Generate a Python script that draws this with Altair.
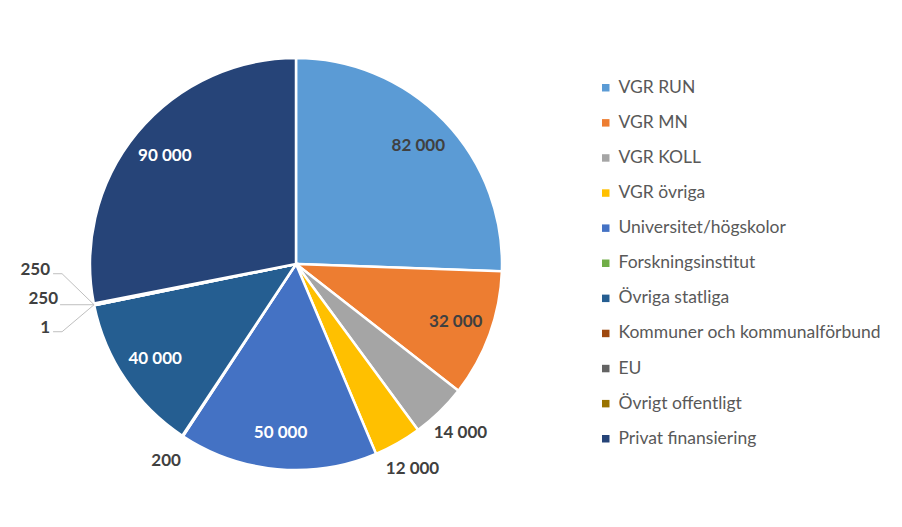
import math
import altair as alt
import pandas as pd

categories = ["VGR RUN", "VGR MN", "VGR KOLL", "VGR övriga", "Universitet/högskolor",
              "Forskningsinstitut", "Övriga statliga", "Kommuner och kommunalförbund",
              "EU", "Övrigt offentligt", "Privat finansiering"]
values = [82000, 32000, 14000, 12000, 50000, 200, 40000, 1, 250, 250, 90000]
colors = ["#5B9BD5", "#ED7D31", "#A5A5A5", "#FFC000", "#4472C4", "#70AD47",
          "#255E91", "#9E480E", "#636363", "#997300", "#264478"]

FONT = "Lato"
W, H = 576, 512
CX, CY = W / 2, H / 2
R = 206
R_IN = 170
R_OUT = 236
DARK_TXT = "#404040"

total = sum(values)
shares = [v / total for v in values]
n_all = len(values)


def fmt(v):
    return f"{v:,}".replace(",", " ")


def is_dark(hexcol):
    r, g, b = (int(hexcol[i:i + 2], 16) for i in (1, 3, 5))
    return 0.299 * r + 0.587 * g + 0.114 * b < 110


def is_tiny(i):
    return shares[i] < 0.01


def clustered(i):
    # a tiny slice next to another tiny slice gets a leader-line label
    return is_tiny(i) and (is_tiny((i - 1) % n_all) or is_tiny((i + 1) % n_all))


rows = []
cum = 0
for i, (c, v, col) in enumerate(zip(categories, values, colors)):
    share = shares[i]
    rows.append({
        "idx": i, "category": c, "value": v,
        "inside": fmt(v) if share >= 0.05 else "",
        "outside": fmt(v) if share < 0.05 and not clustered(i) else "",
        "txtcolor": "white" if is_dark(col) else DARK_TXT,
        "mid": (cum + v / 2) / total * 2 * math.pi,
        "leader": clustered(i),
    })
    cum += v
df = pd.DataFrame(rows)

# clustered tiny slices: labels with leader lines, stacked vertically left of the pie
tiny = [r for r in rows if r["leader"]]
mid_angle = sum(r["mid"] for r in tiny) / len(tiny)
ex = CX + R * math.sin(mid_angle)
ey = CY - R * math.cos(mid_angle)
lab_rows, line_rows = [], []
n = len(tiny)
for k, r in enumerate(tiny):
    pos = (n - 1) / 2 - k  # first (Kommuner) at bottom
    ty = ey - 6 + pos * 29
    if pos == 0:
        tx = ex - 36
        pts = [(tx + 2, ey), (ex, ey)]
    else:
        tx = ex - 44
        pts = [(tx + 3, ty + 4), (tx + 12, ty + 4), (ex, ey)]
    lab_rows.append({"x": tx, "y": ty, "label": fmt(r["value"])})
    for j, (px, py) in enumerate(pts):
        line_rows.append({"x": px, "y": py, "grp": k, "o": j})
lab_df = pd.DataFrame(lab_rows)
line_df = pd.DataFrame(line_rows)

base = alt.Chart(df).encode(
    theta=alt.Theta("value:Q", stack=True),
    order=alt.Order("idx:Q"),
)

arcs = base.mark_arc(outerRadius=R, stroke="white", strokeWidth=2.5).encode(
    color=alt.Color(
        "category:N",
        scale=alt.Scale(domain=categories, range=colors),
        sort=categories,
        legend=alt.Legend(
            title=None, orient="none", legendX=589, legendY=71,
            symbolType="square", symbolSize=56, symbolStrokeWidth=0,
            labelFont=FONT, labelFontSize=17.5, labelColor="#595959",
            labelOffset=4, rowPadding=16.1, padding=0, labelLimit=400,
        ),
    )
)

inside = base.mark_text(radius=R_IN, font=FONT, fontSize=17, fontWeight="bold").encode(
    text="inside:N",
    color=alt.Color("txtcolor:N", scale=None),
)
outside = base.mark_text(radius=R_OUT, font=FONT, fontSize=17, fontWeight="bold",
                         color=DARK_TXT).encode(text="outside:N")

tiny_labels = alt.Chart(lab_df).mark_text(
    font=FONT, fontSize=17, fontWeight="bold", color=DARK_TXT, align="right", baseline="middle"
).encode(
    x=alt.X("x:Q", scale=None), y=alt.Y("y:Q", scale=None), text="label:N"
)
leaders = alt.Chart(line_df).mark_line(color="#BFBFBF", strokeWidth=1).encode(
    x=alt.X("x:Q", scale=None), y=alt.Y("y:Q", scale=None),
    detail="grp:N", order="o:Q",
)

chart = alt.layer(arcs, inside, outside, leaders, tiny_labels).properties(
    width=W, height=H, padding=0, background="white"
).configure_view(stroke=None)

chart.save("out.html", embed_options={"renderer": "svg", "actions": False})
